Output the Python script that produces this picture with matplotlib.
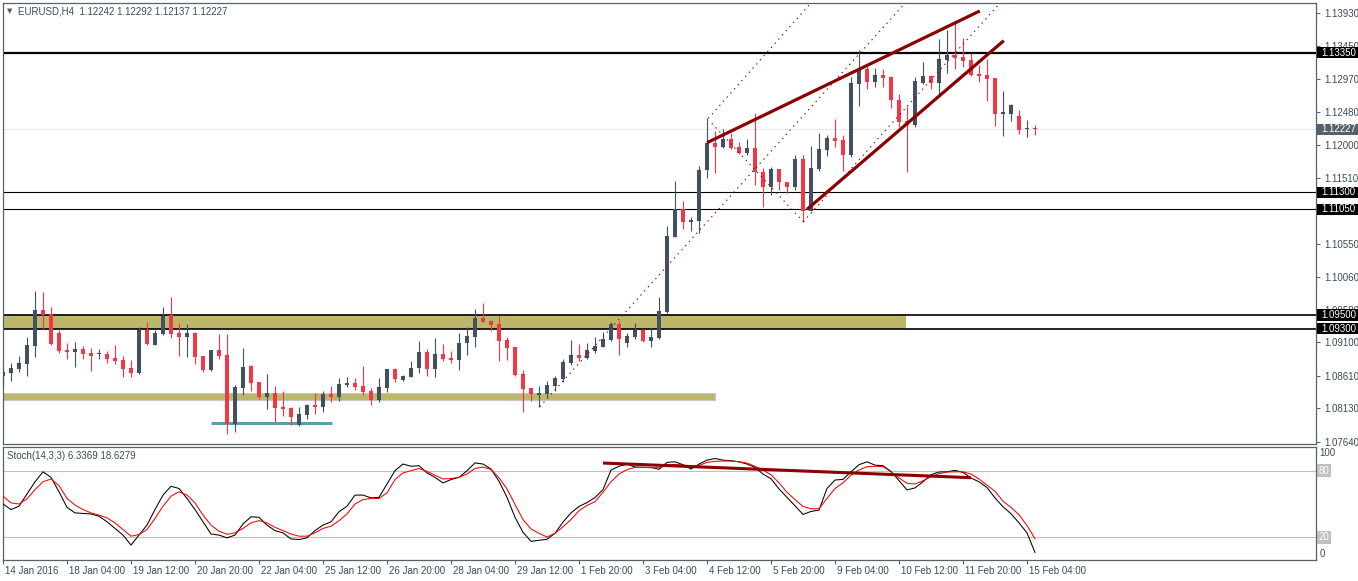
import numpy as np
import matplotlib
matplotlib.use('Agg')
import matplotlib.pyplot as plt
import matplotlib.transforms as mtransforms
from matplotlib.patches import Rectangle

plt.rcParams['font.family'] = ['Liberation Sans', 'DejaVu Sans']

# EURUSD H4 candles (open, high, low, close)
opens = [1.08612, 1.08656, 1.08709, 1.08788, 1.09052, 1.09575, 1.09516, 1.09242, 1.08988, 1.08964,
         1.09003, 1.08944, 1.08925, 1.08929, 1.08871, 1.08841, 1.08724, 1.08656, 1.09282, 1.09066,
         1.09228, 1.09502, 1.09237, 1.09184, 1.09237, 1.08900, 1.08695, 1.08988, 1.08915, 1.07907,
         1.08436, 1.08753, 1.08519, 1.08299, 1.08357, 1.08157, 1.08142, 1.07893, 1.08035, 1.08181,
         1.08157, 1.08343, 1.08299, 1.08480, 1.08504, 1.08460, 1.08386, 1.08254, 1.08435, 1.08704,
         1.08548, 1.08597, 1.08724, 1.08958, 1.08709, 1.08929, 1.08870, 1.08841, 1.09086, 1.09183,
         1.09457, 1.09413, 1.09369, 1.09135, 1.09032, 1.08636, 1.08430, 1.08333, 1.08342, 1.08460,
         1.08567, 1.08802, 1.08914, 1.08870, 1.08973, 1.09037, 1.09135, 1.09374, 1.09095, 1.09174,
         1.09281, 1.09125, 1.09169, 1.09547, 1.10652, 1.11058, 1.10872, 1.10887, 1.11630, 1.12031,
         1.11972, 1.12085, 1.11962, 1.11884, 1.11953, 1.11601, 1.11386, 1.11645, 1.11459, 1.11386,
         1.11791, 1.11034, 1.11640, 1.11923, 1.12099, 1.12070, 1.11850, 1.12898, 1.13113, 1.12927,
         1.13025, 1.12995, 1.12658, 1.12350, 1.12296, 1.12903, 1.13010, 1.12912, 1.13245, 1.13318,
         1.13289, 1.13245, 1.13044, 1.13025, 1.12981, 1.12458, 1.12458, 1.12423, 1.12237, 1.12242]
highs = [1.08719, 1.08793, 1.08900, 1.09184, 1.09854, 1.09834, 1.09619, 1.09282, 1.09091, 1.09105,
         1.09042, 1.09017, 1.09003, 1.08978, 1.09061, 1.08900, 1.08841, 1.09330, 1.09399, 1.09282,
         1.09619, 1.09766, 1.09384, 1.09370, 1.09257, 1.08900, 1.08988, 1.09223, 1.09223, 1.08475,
         1.09013, 1.08763, 1.08519, 1.08636, 1.08460, 1.08387, 1.08152, 1.08152, 1.08196, 1.08357,
         1.08387, 1.08460, 1.08577, 1.08592, 1.08577, 1.08753, 1.08425, 1.08572, 1.08709, 1.08719,
         1.08621, 1.08831, 1.09120, 1.08998, 1.09159, 1.09076, 1.08968, 1.09232, 1.09330, 1.09589,
         1.09677, 1.09428, 1.09487, 1.09179, 1.09032, 1.08694, 1.08430, 1.08460, 1.08538, 1.08606,
         1.08861, 1.09135, 1.09071, 1.09086, 1.09183, 1.09257, 1.09399, 1.09418, 1.09242, 1.09379,
         1.09291, 1.09306, 1.09772, 1.10809, 1.11469, 1.11175, 1.10946, 1.11689, 1.12388, 1.12207,
         1.12227, 1.12168, 1.12041, 1.12085, 1.12461, 1.11659, 1.11679, 1.11645, 1.11459, 1.11850,
         1.11850, 1.11982, 1.12178, 1.12148, 1.12383, 1.12148, 1.13000, 1.13392, 1.13171, 1.13123,
         1.13108, 1.13010, 1.12741, 1.12570, 1.13000, 1.13220, 1.13030, 1.13548, 1.13685, 1.13792,
         1.13572, 1.13352, 1.13171, 1.13255, 1.12981, 1.12795, 1.12604, 1.12511, 1.12365, 1.12292]
lows = [1.08460, 1.08538, 1.08670, 1.08607, 1.08890, 1.09296, 1.09061, 1.08939, 1.08856, 1.08739,
        1.08851, 1.08685, 1.08861, 1.08802, 1.08783, 1.08597, 1.08597, 1.08641, 1.09057, 1.09057,
        1.09203, 1.09169, 1.08900, 1.08880, 1.08783, 1.08670, 1.08685, 1.08856, 1.07756, 1.07790,
        1.08328, 1.08387, 1.08269, 1.08123, 1.07927, 1.08025, 1.07893, 1.07878, 1.07976, 1.08049,
        1.08083, 1.08230, 1.08240, 1.08440, 1.08401, 1.08328, 1.08186, 1.08230, 1.08377, 1.08518,
        1.08538, 1.08587, 1.08655, 1.08606, 1.08587, 1.08831, 1.08802, 1.08694, 1.08910, 1.09037,
        1.09399, 1.09271, 1.08831, 1.08841, 1.08606, 1.08083, 1.08245, 1.08147, 1.08303, 1.08391,
        1.08518, 1.08768, 1.08821, 1.08856, 1.08939, 1.09027, 1.09125, 1.08914, 1.09037, 1.09144,
        1.09110, 1.09037, 1.09144, 1.09537, 1.10652, 1.10770, 1.10740, 1.10701, 1.11518, 1.11581,
        1.11958, 1.11943, 1.11865, 1.11850, 1.11410, 1.11092, 1.11263, 1.11337, 1.11288, 1.11337,
        1.10872, 1.11034, 1.11620, 1.11840, 1.11972, 1.11620, 1.11826, 1.12575, 1.12824, 1.12844,
        1.12854, 1.12536, 1.12267, 1.11607, 1.12267, 1.12888, 1.12814, 1.12746, 1.13059, 1.13118,
        1.13147, 1.13010, 1.12927, 1.12648, 1.12277, 1.12135, 1.12355, 1.12159, 1.12120, 1.12137]
closes = [1.08670, 1.08719, 1.08797, 1.09061, 1.09575, 1.09506, 1.09081, 1.08978, 1.08964, 1.09003,
          1.08934, 1.08905, 1.08934, 1.08856, 1.08832, 1.08714, 1.08656, 1.09282, 1.09081, 1.09237,
          1.09492, 1.09228, 1.09184, 1.09237, 1.08890, 1.08695, 1.08988, 1.08905, 1.07907, 1.08445,
          1.08739, 1.08509, 1.08299, 1.08357, 1.08142, 1.08128, 1.08010, 1.08049, 1.08181, 1.08152,
          1.08343, 1.08299, 1.08489, 1.08504, 1.08450, 1.08377, 1.08259, 1.08445, 1.08709, 1.08557,
          1.08606, 1.08724, 1.08958, 1.08709, 1.08929, 1.08861, 1.08841, 1.09095, 1.09193, 1.09457,
          1.09399, 1.09359, 1.09125, 1.09022, 1.08616, 1.08416, 1.08342, 1.08352, 1.08469, 1.08577,
          1.08812, 1.08919, 1.08870, 1.08988, 1.09047, 1.09144, 1.09374, 1.09144, 1.09193, 1.09281,
          1.09125, 1.09183, 1.09565, 1.10662, 1.11058, 1.10872, 1.10897, 1.11630, 1.12031, 1.11972,
          1.12085, 1.11958, 1.11884, 1.11953, 1.11601, 1.11386, 1.11645, 1.11449, 1.11386, 1.11791,
          1.11034, 1.11659, 1.11938, 1.12099, 1.12060, 1.11850, 1.12903, 1.13113, 1.12927, 1.13025,
          1.12986, 1.12653, 1.12340, 1.12296, 1.12937, 1.13010, 1.12912, 1.13255, 1.13318, 1.13279,
          1.13230, 1.13025, 1.13010, 1.12966, 1.12458, 1.12477, 1.12585, 1.12223, 1.12247, 1.12227]

# Stochastic(14,3,3): %K (main) and %D (signal)
stoch_k = [50, 45, 48, 59, 70, 79, 74, 61, 47, 42, 41.5, 41, 39, 34, 28, 22, 13, 22, 31, 45,
           58, 66, 64, 55, 45, 34, 23, 22, 19.5, 22, 32, 38.5, 38, 31, 26, 24, 18.5, 18, 19.5, 26,
           31, 34, 43, 48, 58, 58, 55.5, 56, 68, 80, 86, 84, 84.5, 78, 74, 69, 72, 74, 80, 87,
           86, 81.5, 70.5, 56, 38, 24.5, 16.4, 17.3, 18.2, 23.6, 33.7, 42, 47.8, 51.3, 55.8, 63, 80.6, 84, 86, 83.3,
           83, 83, 81.2, 87.5, 88, 85.4, 81.5, 86, 89.5, 91, 89.5, 89, 88, 86, 83, 77, 72.8, 63.6, 56, 48.4,
           40.6, 43.3, 44.5, 64, 71.6, 72.2, 79, 85.4, 88, 85, 84.5, 79.4, 71, 62.7, 64.5, 70, 76.4, 78.8, 79, 80.3,
           78.5, 73.4, 70, 64.8, 55.5, 47.5, 41.2, 33, 24, 6.3369]
stoch_d = [57, 51, 50, 54.6, 63, 70, 72.5, 66.6, 55, 49, 45, 42, 40, 37.5, 33, 27, 21, 22.5, 27, 37,
           48, 57, 61, 58, 51, 40, 31, 25.5, 22.7, 24, 28, 33, 35, 33, 29, 26, 23, 21, 21, 24,
           28, 30, 35, 41, 50, 54, 55, 55, 60, 72, 78, 80, 82, 79.4, 76, 72.5, 73, 74, 77, 82,
           83.3, 81, 73.7, 63.6, 49.6, 36, 27.5, 23.6, 20.3, 23.6, 29.5, 36, 44, 48.7, 52, 60.6, 70, 77, 81, 83,
           83, 82.7, 82.7, 84.8, 85.7, 85, 84, 84.8, 87.5, 88.4, 88.7, 88.7, 88, 86.9, 84, 80.6, 76.4, 69, 60.6, 54,
           47.8, 45.7, 45.7, 55, 64, 69, 76, 80.6, 83.6, 84, 83.6, 79, 73.4, 68.7, 68, 71, 74.6, 77.3, 78.8, 79,
           79, 77, 72.5, 67, 61.5, 52.5, 47, 40.3, 30.7, 18.6279]

# Axis labels
price_ticks = [1.13930, 1.13450, 1.12970, 1.12480, 1.12000, 1.11510, 1.11030, 1.10550,
               1.10060, 1.09580, 1.09100, 1.08610, 1.08130, 1.07640]
date_ticks = list(range(0, 130, 8))
date_labels = ['14 Jan 2016', '18 Jan 04:00', '19 Jan 12:00', '20 Jan 20:00', '22 Jan 04:00',
               '25 Jan 12:00', '26 Jan 20:00', '28 Jan 04:00', '29 Jan 12:00', '1 Feb 20:00',
               '3 Feb 04:00', '4 Feb 12:00', '5 Feb 20:00', '9 Feb 04:00', '10 Feb 12:00',
               '11 Feb 20:00', '15 Feb 04:00']

# Drawn objects: horizontal levels, zones, trendlines
levels = [1.13350, 1.11300, 1.11050, 1.09500, 1.09300]
level_widths = [1.6, 0.8, 0.8, 1.2, 1.2]
last_price = 1.12227
upper_zone = (1.09300, 1.09500, 112.9)
lower_zone = (1.08253, 1.08353, 89.0)
support_line = (1.07911, 26.0, 41.1)
wedge_lines = [((88.0, 122.1), (1.12030, 1.13964)),
               ((100.5, 125.1), (1.11052, 1.13528))]
channel_lines = [((67.1, 112.75), (1.08155, 1.14077)),
                 ((88.16, 100.96), (1.12388, 1.14077)),
                 ((88.6, 100.04), (1.12315, 1.10870)),
                 ((100.04, 124.6), (1.10870, 1.14077))]
stoch_trend = ((75.0, 121.0), (86.9, 73.7))

bull_col = '#435061'
bear_col = '#f23645'
frame_col = '#56616c'
text_col = '#3d4b5a'
dark_red = '#8b0000'
olive = '#bdb76b'

o = np.array(opens)
h = np.array(highs)
l = np.array(lows)
c = np.array(closes)
idx = np.arange(len(o))

fig = plt.figure(figsize=(13.58, 5.81), dpi=100)
W, H = 1358.0, 581.0
ax = fig.add_axes([2.5 / W, 137 / H, 1313 / W, 441 / H])
ax2 = fig.add_axes([2.5 / W, 21 / H, 1313 / W, 113.5 / H])

xmin, xmax = -0.0625, 164.0625
ax.set_xlim(xmin, xmax)
ax.set_ylim(1.07607, 1.14081)
ax2.set_xlim(xmin, xmax)
ax2.set_ylim(-0.45, 101.8)

# zones
for lo, hi, end in [upper_zone]:
    ax.add_patch(Rectangle((xmin, lo), end - xmin, hi - lo, facecolor=olive, edgecolor='none', zorder=1))
lo, hi, end = lower_zone
ax.add_patch(Rectangle((xmin, lo), end - xmin, hi - lo, facecolor=olive, edgecolor='#c6c6c6', lw=0.8, zorder=1))

# current price line
ax.axhline(last_price, color='#e8e8e8', lw=0.8, zorder=0.5)

# horizontal levels
for lvl, lw in zip(levels, level_widths):
    ax.axhline(lvl, color='black', lw=lw, zorder=2)

# teal support
ax.plot([support_line[1], support_line[2]], [support_line[0]] * 2, color='#5f9ea0', lw=2.2,
        solid_capstyle='butt', zorder=3)

# candles
colors = np.where(c >= o, bull_col, bear_col)
ax.vlines(idx, l, h, colors=colors, lw=0.8, zorder=4)
body_lo = np.minimum(o, c)
body_h = np.maximum(np.abs(c - o), 0.00012)
ax.bar(idx, body_h, bottom=body_lo, width=0.62, color=colors, lw=0, zorder=5)

# trendlines
for xs, ys in channel_lines:
    ax.plot(xs, ys, color=dark_red, lw=0.8, dashes=(1.2, 3.8), zorder=6)
for xs, ys in wedge_lines:
    ax.plot(xs, ys, color=dark_red, lw=2.3, solid_capstyle='butt', zorder=7)

# price axis
ax.yaxis.tick_right()
ax.set_yticks(price_ticks)
ax.set_yticklabels(['%.5f' % p for p in price_ticks])
ax.tick_params(axis='y', direction='out', length=3, width=0.8, color=frame_col,
               labelsize=7, labelcolor=text_col, pad=3)
ax.set_xticks([])
for sp in ax.spines.values():
    sp.set_color(frame_col)
    sp.set_linewidth(0.9)

# price tags on the right edge
tag_tr = mtransforms.blended_transform_factory(ax.transAxes, ax.transData)
tag_h = 0.00165
for lvl in levels + [last_price]:
    bg = '#56606b' if lvl == last_price else 'black'
    ax.add_patch(Rectangle((1.001, lvl - tag_h / 2), 0.04, tag_h, transform=tag_tr,
                           facecolor=bg, edgecolor='none', clip_on=False, zorder=20))
    ax.text(1.0047, lvl, '%.5f' % lvl, transform=tag_tr, color='white', fontsize=7,
            va='center', ha='left', clip_on=False, zorder=21)

# header
ax.text(0.0035, 0.9815, '\u25bc', transform=ax.transAxes, fontsize=5, color='#5a5a5a',
        va='center', ha='left', family=['DejaVu Sans'])
ax.text(0.0118, 0.9815, 'EURUSD,H4  1.12242 1.12292 1.12137 1.12227', transform=ax.transAxes,
        fontsize=7, color=text_col, va='center', ha='left')

# stochastic panel
ax2.axhline(80, color='#c0c0c0', lw=0.8, zorder=1)
ax2.axhline(20, color='#c0c0c0', lw=0.8, zorder=1)
ax2.plot(idx, stoch_k, color='black', lw=0.75, zorder=3)
ax2.plot(idx, stoch_d, color='red', lw=0.75, zorder=4)
ax2.plot(stoch_trend[0], stoch_trend[1], color=dark_red, lw=2.2, solid_capstyle='butt', zorder=5)
ax2.text(0.0035, 0.92, 'Stoch(14,3,3) 6.3369 18.6279', transform=ax2.transAxes,
         fontsize=7, color=text_col, va='center', ha='left')

st_tr = mtransforms.blended_transform_factory(ax2.transAxes, ax2.transData)
ax2.text(1.003, 96, '100', transform=st_tr, fontsize=7, color=text_col, va='center', ha='left')
ax2.text(1.003, 5, '0', transform=st_tr, fontsize=7, color=text_col, va='center', ha='left')
for lv in [80, 20]:
    ax2.text(1.0025, lv, str(lv), transform=st_tr, fontsize=7, color='white', va='center', ha='left',
             bbox=dict(boxstyle='square,pad=0.15', facecolor='#c0c0c0', edgecolor='none'))

ax2.set_yticks([])
ax2.set_xticks(date_ticks)
ax2.set_xticklabels(date_labels, ha='left')
ax2.tick_params(axis='x', direction='out', length=3, width=0.8, color=frame_col,
                labelsize=7, labelcolor=text_col, pad=1.5)
offset = mtransforms.ScaledTranslation(2 / 100, 0, fig.dpi_scale_trans)
for lab in ax2.get_xticklabels():
    lab.set_transform(lab.get_transform() + offset)
for sp in ax2.spines.values():
    sp.set_color(frame_col)
    sp.set_linewidth(0.9)

fig.savefig('out.png', dpi=100, facecolor='white')
